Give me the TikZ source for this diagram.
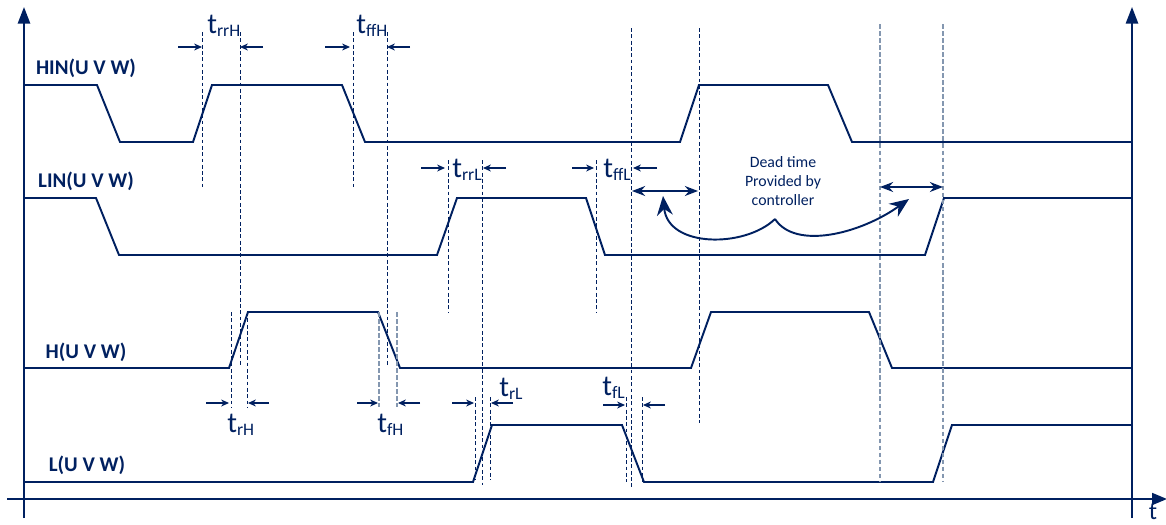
\documentclass[tikz,border=0pt]{standalone}
\usepackage{fontspec}
\setmainfont{Carlito}
\usetikzlibrary{arrows.meta}
\definecolor{sigblue}{HTML}{002060}
\definecolor{guidegray}{HTML}{8497B0}
\newcommand{\tdelay}[1]{t\raisebox{-2.2pt}{\fontsize{10}{11}\selectfont #1}}
\begin{document}
\begin{tikzpicture}[x=0.02cm,y=-0.02cm,color=sigblue,
	signal/.style={line width=1.1pt},
	axis/.style={line width=1.1pt},
	guide/.style={line width=0.55pt,dash pattern=on 2.2pt off 1.4pt},
	faintguide/.style={guidegray,line width=1pt,dash pattern=on 2.6pt off 1.4pt},
	dimarrow/.style={line width=0.6pt,-{Stealth[length=4.5pt,width=4pt]}},
	deadarrow/.style={line width=0.8pt,{Stealth[length=7.5pt,width=5.7pt]}-{Stealth[length=7.5pt,width=5.7pt]}},
	bigarrow/.style={line width=1.1pt,-{Stealth[length=11pt,width=9pt]}},
	siglabel/.style={font=\fontsize{11.9}{14}\selectfont\bfseries},
	tlabel/.style={font=\fontsize{16.5}{19}\selectfont,anchor=base west,inner sep=0pt},
	note/.style={font=\fontsize{9}{10.8}\selectfont,align=center}]
			\useasboundingbox (0,0) rectangle (1166,524);
			% axes
			\draw[axis,-{Triangle[length=9.5pt,width=7pt]}] (24,518) -- (24,7);
			\draw[axis,-{Triangle[length=9.5pt,width=7pt]}] (1132,518) -- (1132,7);
			\draw[axis,-{Triangle[length=8.5pt,width=6.8pt]}] (7,499) -- (1167,499);
			\node[font=\fontsize{14}{16}\selectfont,anchor=base,inner sep=0pt] (taxis) at (1153,519) {t};
			% signals
			\draw[signal] (24,85) -- (97,85) -- (120,142) -- (193,142) -- (212,85) -- (342,85) -- (365,142)
				-- (680,142) -- (699,85) -- (828,85) -- (852,142) -- (1132,142);
			\draw[signal] (24,198) -- (96,198) -- (119,255) -- (437,255) -- (457,198) -- (586,198) -- (605,255)
				-- (925,255) -- (944,198) -- (1132,198);
			\draw[signal] (24,368) -- (229,368) -- (248,312) -- (378,312) -- (400,368) -- (691,368) -- (711,312)
				-- (869,312) -- (892,368) -- (1132,368);
			\draw[signal] (24,482) -- (473,482) -- (492,425) -- (622,425) -- (644,482) -- (933,482) -- (952,425)
				-- (1132,425);
			% signal names
			\node[siglabel] (hin) at (86,68) {HIN(U V W)};
			\node[siglabel] (lin) at (86,181) {LIN(U V W)};
			\node[siglabel] (hout) at (86,352) {H(U V W)};
			\node[siglabel] (lout) at (87,465) {L(U V W)};
			% guide lines
			\foreach \x/\a/\b in {202/32/187, 240/32/367, 353/32/187, 387/32/367, 448/160/312, 482/160/485,
				596/160/312, 631/28/487, 699/28/423, 231/312/407, 247/312/407, 475/397/480, 490/397/480,
				626/397/482, 642/397/482}
				\draw[guide] (\x,\a) -- (\x,\b);
			\foreach \x/\a/\b in {880/24/482, 943/24/482, 379/312/407, 397/312/407}
				\draw[faintguide] (\x,\a) -- (\x,\b);
			% delay markers
			\foreach \a/\b/\y in {178/202/47, 263/240/47, 325/350/47, 410/387/47, 421/445/168, 506/483/168,
				572/594/168, 657/633/168, 206/229/403, 269/248/403, 357/378/403, 420/398/403,
				452/474/403, 513/491/403, 603/625/405, 665/643/405}
				\draw[dimarrow] (\a,\y) -- (\b,\y);
			\node[tlabel] (trrH) at (207,33) {\tdelay{rrH}};
			\node[tlabel] (tffH) at (356,33) {\tdelay{f{}fH}};
			\node[tlabel] (trrL) at (452,177) {\tdelay{rrL}};
			\node[tlabel] (tffL) at (603,177) {\tdelay{f{}fL}};
			\node[tlabel] (trH) at (227,432) {\tdelay{rH}};
			\node[tlabel] (tfH) at (377,432) {\tdelay{fH}};
			\node[tlabel] (trL) at (499,396) {\tdelay{rL}};
			\node[tlabel] (tfL) at (602,395) {\tdelay{fL}};
			% dead time
			\draw[deadarrow] (632,191) -- (698,191);
			\draw[deadarrow] (880,187) -- (943,187);
			\node[note] (dead) at (783,181) {Dead time\\Provided by\\controller};
			\coordinate (cusp) at (775,219);
			\draw[bigarrow] (cusp) .. controls (745,248) and (668,248) .. (663,196);
			\draw[bigarrow] (cusp) .. controls (795,250) and (860,234) .. (909,199);
\end{tikzpicture}
\end{document}
